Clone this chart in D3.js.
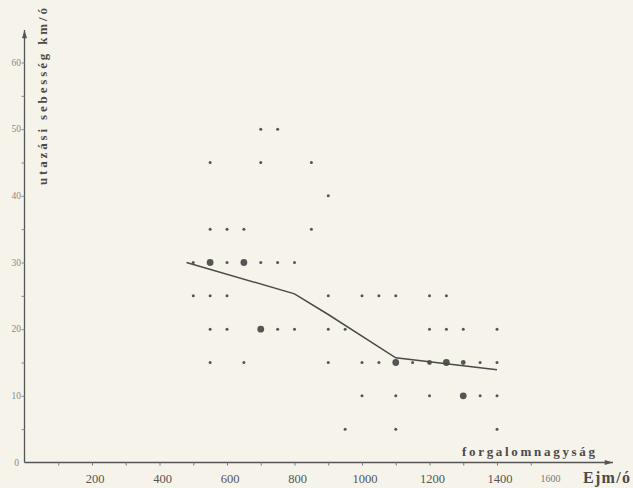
<!DOCTYPE html>
<html>
<head>
<meta charset="utf-8">
<script src="https://cdn.jsdelivr.net/npm/d3@7"></script>
<style>
  body { margin: 0; background: #f6f4ea; }
  svg { display: block; }
  .lbl { font-family: "Liberation Serif", serif; font-weight: bold; fill: #4a4a4a; }
</style>
</head>
<body>
<script>
// observations: forgalomnagyság (Ejm/ó) vs utazási sebesség (km/ó)
// size: 1 = small dot, 2 = medium, 3 = large
const obsX = [
  700, 750,
  550, 700, 850,
  900,
  550, 600, 650, 850,
  500, 550, 600, 650, 700, 750, 800,
  500, 550, 600, 900, 1000, 1050, 1100, 1200, 1250,
  550, 600, 700, 750, 800, 900, 950, 1200, 1250, 1300, 1400,
  550, 650, 900, 1000, 1050, 1100, 1150, 1200, 1250, 1300, 1350, 1400,
  1000, 1100, 1200, 1300, 1350, 1400,
  950, 1100, 1400
];
const obsY = [
  50, 50,
  45, 45, 45,
  40,
  35, 35, 35, 35,
  30, 30, 30, 30, 30, 30, 30,
  25, 25, 25, 25, 25, 25, 25, 25, 25,
  20, 20, 20, 20, 20, 20, 20, 20, 20, 20, 20,
  15, 15, 15, 15, 15, 15, 15, 15, 15, 15, 15, 15,
  10, 10, 10, 10, 10, 10,
  5, 5, 5
];
const obsSize = [
  1, 1,
  1, 1, 1,
  1,
  1, 1, 1, 1,
  1, 3, 1, 3, 1, 1, 1,
  1, 1, 1, 1, 1, 1, 1, 1, 1,
  1, 1, 3, 1, 1, 1, 1, 1, 1, 1, 1,
  1, 1, 1, 1, 1, 3, 1, 2, 3, 2, 1, 1,
  1, 1, 1, 3, 1, 1,
  1, 1, 1
];

// fitted trend line
const trendX = [480, 800, 900, 1100, 1400];
const trendY = [30, 25.3, 22.2, 15.7, 13.9];

const xTickLabels = [200, 400, 600, 800, 1000, 1200, 1400];
const yTickLabels = [0, 10, 20, 30, 40, 50, 60];

const width = 633, height = 488;

const svg = d3.select("body").append("svg")
    .attr("width", width).attr("height", height);

const x = d3.scaleLinear().domain([0, 1600]).range([24.5, 564.5]);
const y = d3.scaleLinear().domain([0, 60]).range([462.5, 62.5]);

// arrow heads
const defs = svg.append("defs");
defs.append("marker").attr("id", "arr")
    .attr("viewBox", "0 0 10 6").attr("refX", 10).attr("refY", 3)
    .attr("markerWidth", 10).attr("markerHeight", 5).attr("orient", "auto")
    .attr("markerUnits", "userSpaceOnUse")
  .append("path").attr("d", "M0,0L10,3L0,6Z").attr("fill", "#555");

// axis lines
svg.append("line")
    .attr("x1", x(0)).attr("x2", 613).attr("y1", y(0)).attr("y2", y(0))
    .attr("stroke", "#555").attr("stroke-width", 1.3).attr("marker-end", "url(#arr)");
svg.append("line")
    .attr("x1", x(0)).attr("x2", x(0)).attr("y1", y(0)).attr("y2", 30)
    .attr("stroke", "#555").attr("stroke-width", 1.3).attr("marker-end", "url(#arr)");

// x ticks every 100
let xAxis = d3.axisBottom(x)
    .tickValues(d3.range(100, 1600, 100))
    .tickSize(3).tickFormat("");
let gx = svg.append("g").attr("transform", "translate(0," + y(0) + ")").call(xAxis);
gx.select(".domain").remove();
gx.selectAll(".tick line").attr("stroke", "#777");

svg.append("g").selectAll("text").data(xTickLabels).enter().append("text")
    .attr("x", function(d) { return x(d) + 3; })
    .attr("y", 483)
    .attr("text-anchor", "middle")
    .style("font-family", "Liberation Serif, serif").style("font-size", "12.5px")
    .style("fill", "#555")
    .text(function(d) { return d; });

svg.append("text")
    .attr("x", x(1600) - 14).attr("y", 482).attr("text-anchor", "middle")
    .style("font-family", "Liberation Serif, serif").style("font-size", "10px")
    .style("fill", "#777").text("1600");

// y ticks every 5
let yAxis = d3.axisLeft(y)
    .tickValues(d3.range(5, 65, 5))
    .tickSize(3).tickFormat("");
let gy = svg.append("g").attr("transform", "translate(" + x(0) + ",0)").call(yAxis);
gy.select(".domain").remove();
gy.selectAll(".tick line").attr("stroke", "#888");

svg.append("g").selectAll("text").data(yTickLabels).enter().append("text")
    .attr("x", function(d) { return d === 0 ? 19 : 21; })
    .attr("y", function(d) { return y(d) + 3; })
    .attr("text-anchor", "end")
    .style("font-family", "Liberation Serif, serif").style("font-size", "9.5px")
    .style("fill", "#888")
    .text(function(d) { return d; });

// dots
const radius = [0, 1.5, 2.4, 3.4];
svg.append("g").selectAll("circle").data(d3.range(obsX.length)).enter().append("circle")
    .attr("cx", function(i) { return x(obsX[i]); })
    .attr("cy", function(i) { return y(obsY[i]); })
    .attr("r", function(i) { return radius[obsSize[i]]; })
    .attr("fill", "#555");

// trend line
let line = d3.line()
    .x(function(d, i) { return x(trendX[i]); })
    .y(function(d, i) { return y(trendY[i]); });
svg.append("path").datum(trendX)
    .attr("d", line).attr("fill", "none")
    .attr("stroke", "#4a4a4a").attr("stroke-width", 1.5);

// axis titles
svg.append("text").attr("class", "lbl")
    .attr("transform", "translate(47,185) rotate(-90)")
    .attr("textLength", 177).attr("lengthAdjust", "spacing")
    .style("font-size", "13px")
    .text("utazási sebesség km/ó");

svg.append("text").attr("class", "lbl")
    .attr("x", 462).attr("y", 456)
    .attr("textLength", 133).attr("lengthAdjust", "spacing")
    .style("font-size", "13px")
    .text("forgalomnagyság");

svg.append("text").attr("class", "lbl")
    .attr("x", 583).attr("y", 483)
    .attr("textLength", 47).attr("lengthAdjust", "spacing")
    .style("font-size", "16px")
    .text("Ejm/ó");
</script>
</body>
</html>
